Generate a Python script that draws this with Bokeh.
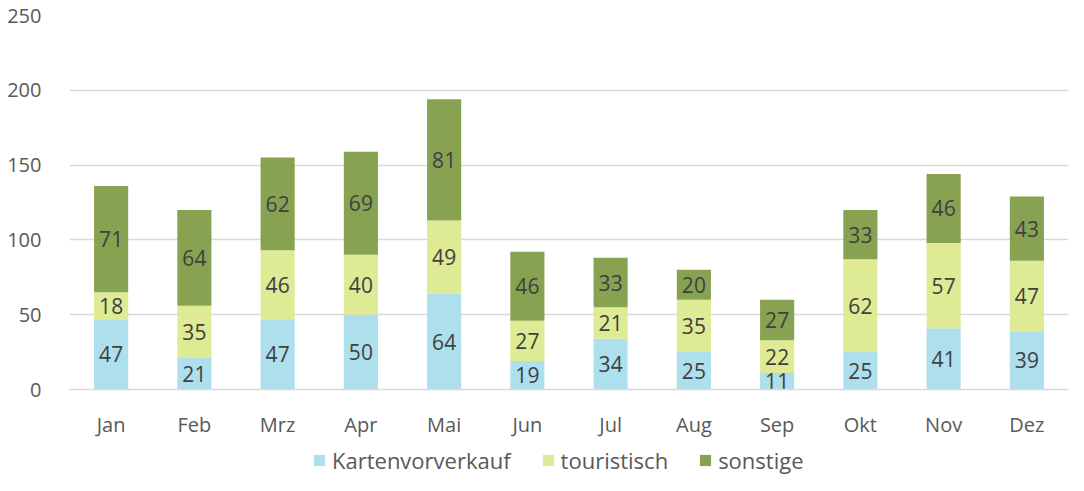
from bokeh.plotting import figure
from bokeh.layouts import column
from bokeh.models import FactorRange, FixedTicker, Legend, LegendItem, ColumnDataSource
from bokeh.core.properties import value
from bokeh.embed import file_html
from bokeh.resources import INLINE

months = ["Jan", "Feb", "Mrz", "Apr", "Mai", "Jun", "Jul", "Aug", "Sep", "Okt", "Nov", "Dez"]
kartenvorverkauf = [47, 21, 47, 50, 64, 19, 34, 25, 11, 25, 41, 39]
touristisch = [18, 35, 46, 40, 49, 27, 21, 35, 22, 62, 57, 47]
sonstige = [71, 64, 62, 69, 81, 46, 33, 20, 27, 33, 46, 43]
series_names = ["Kartenvorverkauf", "touristisch", "sonstige"]
colors = ["#ADDFED", "#DEEA94", "#87A352"]
y_ticks = [0, 50, 100, 150, 200, 250]

FONT = "Open Sans"
TXT = "#595959"
FS = "20px"

p = figure(width=1068, height=442, x_range=FactorRange(*months, range_padding=0),
           y_range=(0, 250), output_backend="svg", toolbar_location=None)
p.min_border_left = 69
p.min_border_right = 0
p.min_border_top = 15
p.min_border_bottom = 53
p.outline_line_color = None
p.background_fill_color = "white"
p.border_fill_color = "white"

src = ColumnDataSource(dict(month=months, k=kartenvorverkauf, t=touristisch, s=sonstige))
renderers = p.vbar_stack(["k", "t", "s"], x="month", width=0.41, source=src,
                         color=colors, line_color=None)

# segment labels
vals = [kartenvorverkauf, touristisch, sonstige]
for i, arr in enumerate(vals):
    base = [sum(v[j] for v in vals[:i]) for j in range(len(months))]
    mids = [b + a / 2 for b, a in zip(base, arr)]
    p.text(x=months, y=mids, text=[str(a) for a in arr], text_align="center",
           text_baseline="middle", text_font=value(FONT), text_font_size="21px",
           text_color="#404040")

p.xgrid.grid_line_color = None
p.ygrid.grid_line_color = "#D9D9D9"
p.ygrid.grid_line_width = 1.5
p.yaxis.ticker = FixedTicker(ticks=y_ticks)
p.yaxis.axis_line_color = None
p.yaxis.major_tick_line_color = None
p.yaxis.minor_tick_line_color = None
p.yaxis.major_label_standoff = 22
p.yaxis.major_label_text_font = FONT
p.yaxis.major_label_text_font_size = FS
p.yaxis.major_label_text_color = TXT

p.xaxis.axis_line_color = "#D9D9D9"
p.xaxis.axis_line_width = 1.5
p.xaxis.major_tick_line_color = None
p.xaxis.minor_tick_line_color = None
p.xaxis.major_label_standoff = 15
p.xaxis.major_label_text_font = FONT
p.xaxis.major_label_text_font_size = FS
p.xaxis.major_label_text_color = TXT

# legend strip (zero-size dummy glyphs only carry the legend colours)
lf = figure(width=1068, height=33, x_range=(0, 1), y_range=(0, 1),
            output_backend="svg", toolbar_location=None)
lf.min_border = 0
lf.axis.visible = False
lf.grid.visible = False
lf.outline_line_color = None
items = []
for n, c in zip(series_names, colors):
    r = lf.quad(left=[0], right=[0], top=[0], bottom=[0], fill_color=c, line_color=None)
    items.append(LegendItem(label=n, renderers=[r]))
legend = Legend(items=items, orientation="horizontal", location=(243, 0),
                glyph_width=14, glyph_height=14, label_standoff=6, spacing=30,
                label_text_font=FONT, label_text_font_size="22px", label_text_color=TXT,
                border_line_color=None, background_fill_alpha=0, padding=0, margin=0)
lf.add_layout(legend, "center")

layout = column(p, lf, spacing=0)
open("out.html", "w").write(file_html(layout, INLINE))
